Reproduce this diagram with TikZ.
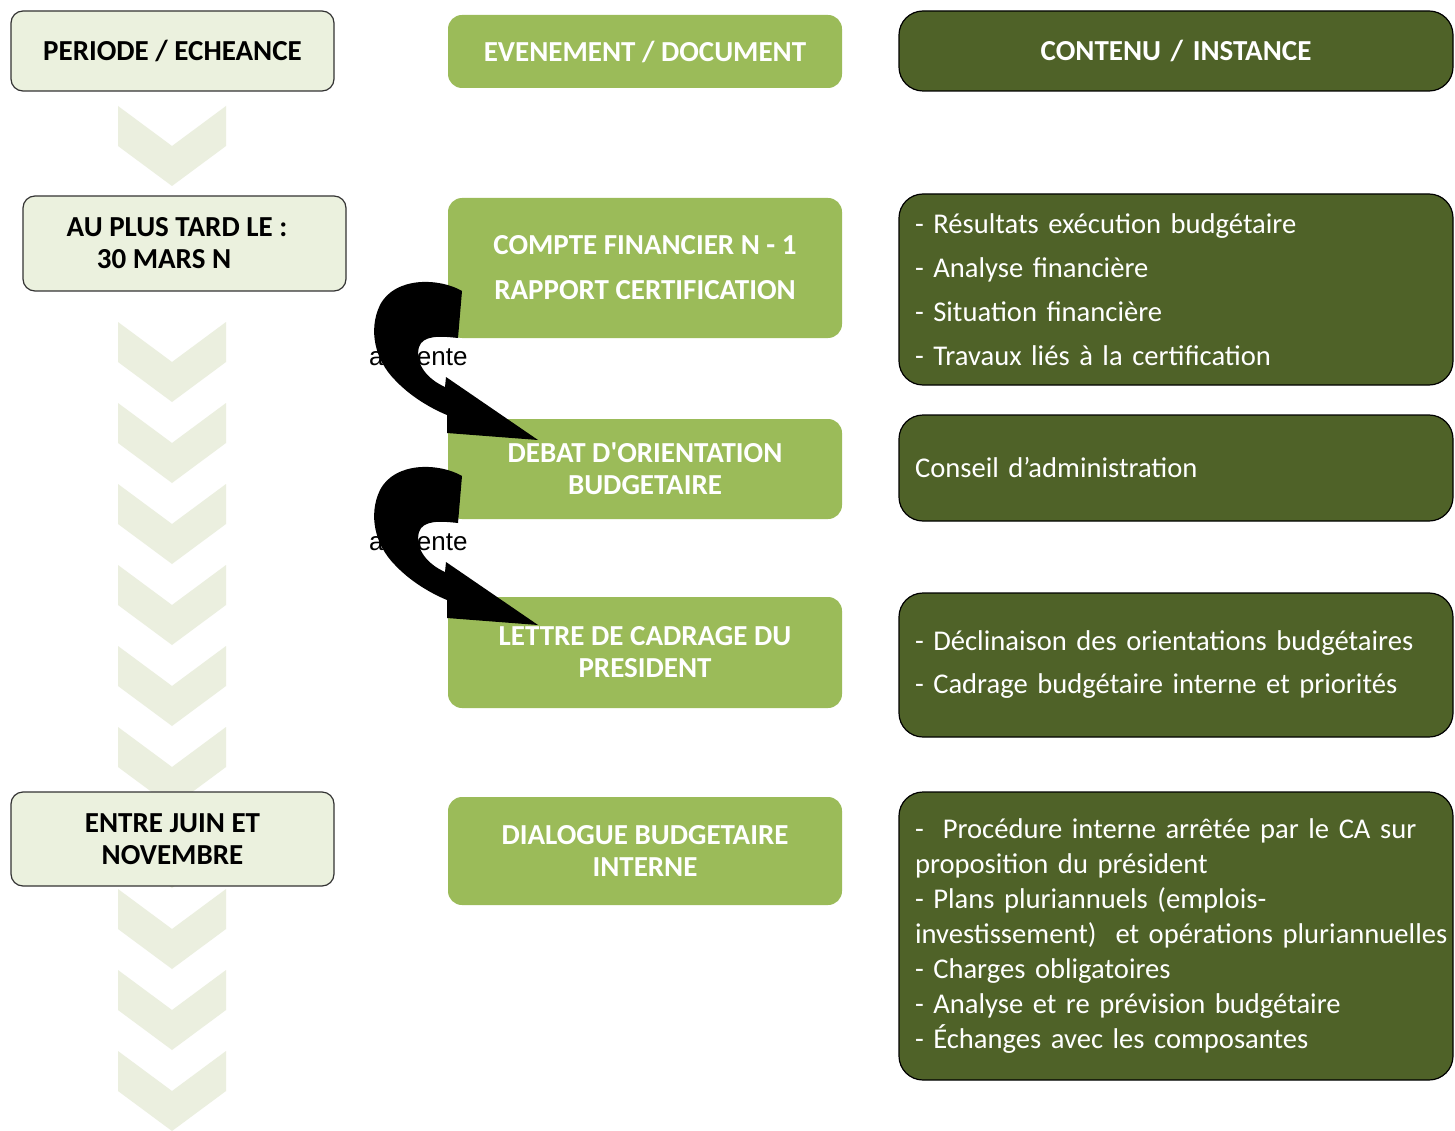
\documentclass[tikz,border=0pt]{standalone}
\usepackage{fontspec}
\setmainfont{Carlito}
\newfontfamily\arialf{Liberation Sans}
\definecolor{lightgreen}{HTML}{9BBB59}
\definecolor{darkgreen}{HTML}{4F6228}
\definecolor{palegreen}{HTML}{EBF1DE}
\definecolor{chevfill}{HTML}{EBEFDF}
\begin{document}
\begin{tikzpicture}[x=1pt,y=-1pt,
 leftbox/.style={draw=black!80, line width=1.2pt, fill=palegreen, rounded corners=12pt, inner sep=0pt, align=center, text=black, minimum width=323pt, font=\fontsize{29}{32}\selectfont\bfseries},
 midbox/.style={fill=lightgreen, rounded corners=14pt, inner sep=0pt, align=center, text=white, minimum width=394pt, font=\fontsize{29}{32}\selectfont\bfseries},
 rightbox/.style={draw=black, line width=1.2pt, fill=darkgreen, rounded corners=24pt, inner xsep=16pt, inner ysep=0pt, text=white, minimum width=554pt, text width=522pt, align=left, font=\fontsize{28.6}{35}\selectfont},
 chev/.style={fill=chevfill, draw=none},
 curvarrow/.style={fill=black, draw=none},
 arrlabel/.style={font=\arialf\fontsize{26}{30}\selectfont, text=black, inner sep=0pt, anchor=base west}]
\useasboundingbox (0,0) rectangle (1455,1131);
\fill[white] (0,0) rectangle (1455,1131);

% chevrons
\foreach \yy in {106,322,403,484,565,646,727,808,889,970,1051}{
  \path[chev] (118,\yy) -- (172,\yy+40) -- (226,\yy) -- (226,\yy+40) -- (172,\yy+80) -- (118,\yy+40) -- cycle;
}

% left column
\node[leftbox, minimum height=80pt] (per) at (172.5,51) {PERIODE / ECHEANCE};
\node[leftbox, minimum height=95pt] (aupt) at (184.5,243.5) {AU PLUS TARD LE :\hspace*{15pt}\\30 MARS N\hspace*{41pt}};
\node[leftbox, minimum height=94pt] (entre) at (172.5,839) {ENTRE JUIN ET\\NOVEMBRE};

% middle column
\node[midbox, minimum height=73pt] (evt) at (645,51.5) {EVENEMENT / DOCUMENT};
\node[midbox, minimum height=140pt, font=\fontsize{29}{45}\selectfont\bfseries] (cpt) at (645,268) {COMPTE FINANCIER N - 1\\RAPPORT CERTIFICATION};
\node[midbox, minimum height=100pt] (deb) at (645,469) {DEBAT D\textquotesingle ORIENTATION\\BUDGETAIRE};
\node[midbox, minimum height=111pt] (let) at (645,652.5) {LETTRE DE CADRAGE DU\\PRESIDENT};
\node[midbox, minimum height=108pt] (dia) at (645,851) {DIALOGUE BUDGETAIRE\\INTERNE};

% right column
\node[rightbox, minimum height=80pt, align=center, font=\fontsize{29}{35}\selectfont\bfseries] (cont) at (1176,51) {CONTENU / INSTANCE};
\node[rightbox, minimum height=191pt, font=\fontsize{28.6}{44}\selectfont] (res) at (1176,289.5) {- Résultats exécution budgétaire\\- Analyse financière\\- Situation financière\\- Travaux liés à la certification};
\node[rightbox, minimum height=106pt] (cons) at (1176,468) {Conseil d’administration};
\node[rightbox, minimum height=144pt, font=\fontsize{28.6}{43}\selectfont] (decl) at (1176,665) {- Déclinaison des orientations budgétaires\\- Cadrage budgétaire interne et priorités};
\node[rightbox, minimum height=288pt] (proc) at (1176,936) {\vspace*{0pt}- \ Procédure interne arrêtée par le CA sur\\proposition du président\\- Plans pluriannuels (emplois-\\\mbox{investissement)\ \ et opérations pluriannuelles}\\- Charges obligatoires\\- Analyse et re prévision budgétaire\\- Échanges avec les composantes};

% curved arrows "alimente"
\foreach \sh/\nm in {0/a, 185/b}{
\begin{scope}[yshift=-\sh pt]
\path[curvarrow] (462,291) .. controls (440,278) and (395,276) .. (380,305)
 .. controls (368,330) and (375,360) .. (395,380)
 .. controls (410,396) and (430,408) .. (447,415)
 -- (447,433) -- (538,440) -- (446,377) -- (445,387)
 .. controls (425,378) and (415,362) .. (419,347)
 .. controls (423,335) and (440,336) .. (458,338) -- cycle;
\node[arrlabel] (lab\nm) at (369,365) {alimente};
\end{scope}
}
\end{tikzpicture}
\end{document}
